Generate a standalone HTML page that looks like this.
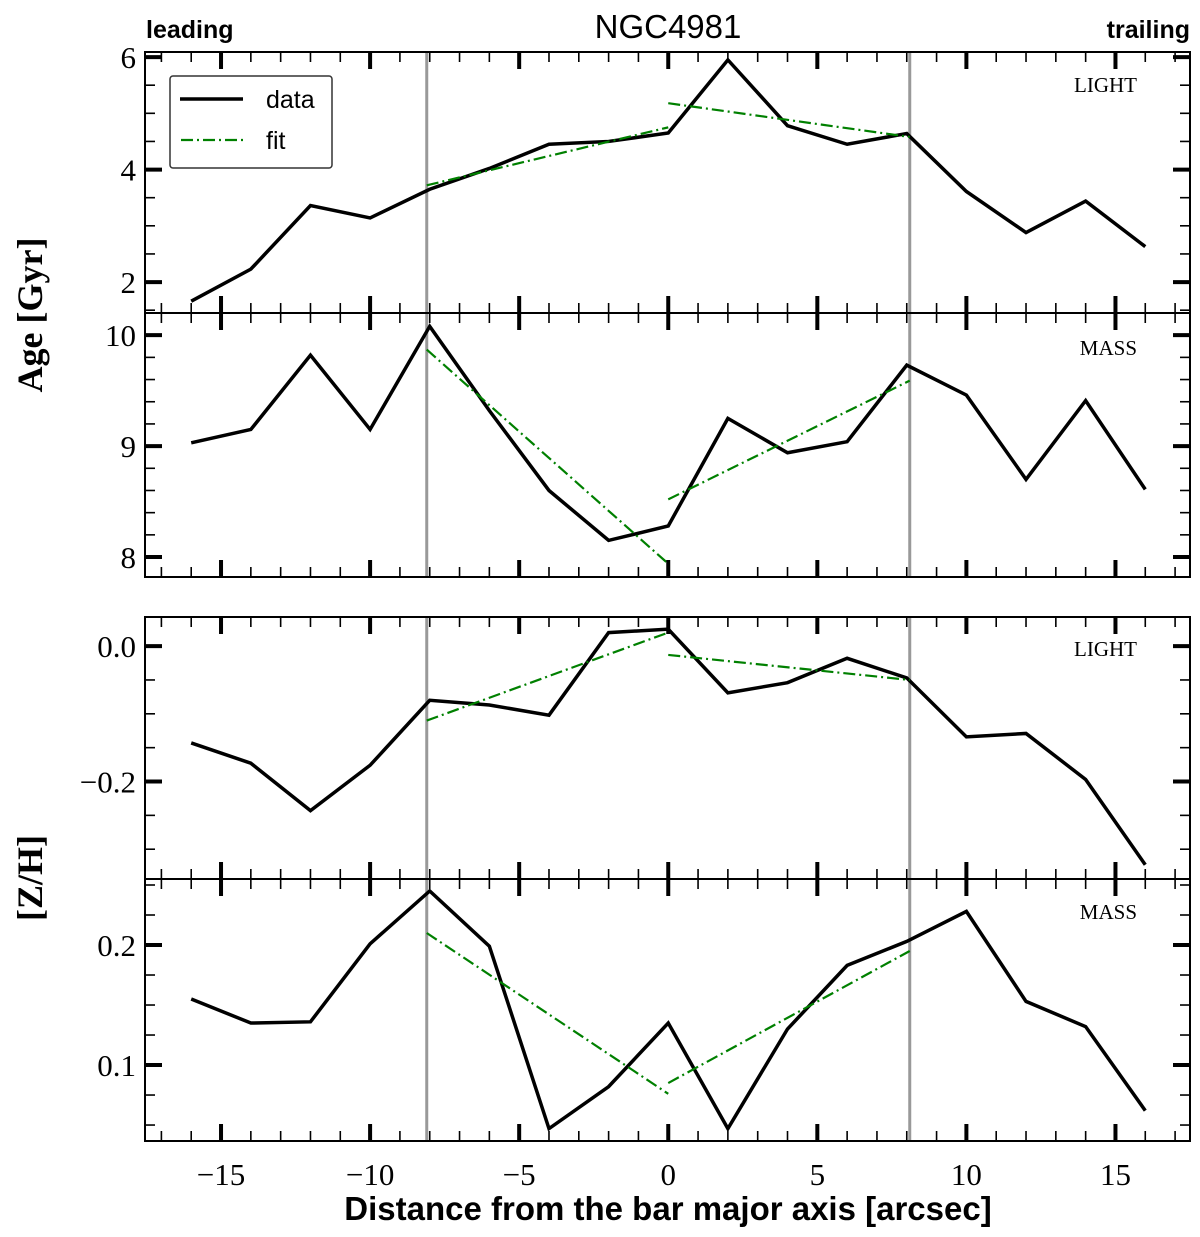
<!DOCTYPE html>
<html><head><meta charset="utf-8">
<style>
html,body{margin:0;padding:0;background:#fff;}
svg{display:block;}
.tk{font-family:"Liberation Serif",serif;font-size:31px;fill:#000;}
</style></head>
<body>
<svg id="chart" width="1200" height="1237" viewBox="0 0 1200 1237" xmlns="http://www.w3.org/2000/svg">
<text x="668" y="38" text-anchor="middle" font-family="Liberation Sans, sans-serif" font-size="33">NGC4981</text>
<text x="146" y="38" font-family="Liberation Sans, sans-serif" font-weight="bold" font-size="25">leading</text>
<text x="1190" y="38" text-anchor="end" font-family="Liberation Sans, sans-serif" font-weight="bold" font-size="25">trailing</text>
<text transform="translate(42,315) rotate(-90)" text-anchor="middle" font-family="Liberation Serif, serif" font-weight="bold" font-size="36">Age [Gyr]</text>
<text transform="translate(42,878) rotate(-90)" text-anchor="middle" font-family="Liberation Serif, serif" font-weight="bold" font-size="36">[Z/H]</text>
<text x="668" y="1220" text-anchor="middle" font-family="Liberation Sans, sans-serif" font-weight="bold" font-size="33">Distance from the bar major axis [arcsec]</text>
<g id="plots"></g>
</svg>
<script>
const xs = [-16,-14,-12,-10,-8,-6,-4,-2,0,2,4,6,8,10,12,14,16];
const ageLight = [1.66,2.23,3.36,3.14,3.65,4.02,4.45,4.5,4.65,5.95,4.78,4.45,4.64,3.61,2.88,3.44,2.63];
const ageMass = [9.03,9.15,9.82,9.15,10.08,9.32,8.6,8.15,8.28,9.25,8.94,9.04,9.73,9.46,8.7,9.41,8.61];
const zhLight = [-0.143,-0.173,-0.243,-0.176,-0.08,-0.087,-0.102,0.02,0.025,-0.069,-0.054,-0.018,-0.047,-0.134,-0.129,-0.197,-0.323];
const zhMass = [0.155,0.135,0.136,0.201,0.245,0.199,0.047,0.082,0.135,0.047,0.13,0.183,0.203,0.228,0.153,0.132,0.062];
const fitX = [[-8.1,0],[0,8.1]];
const ageLightFit = [[3.72,4.75],[5.18,4.58]];
const ageMassFit = [[9.87,7.94],[8.52,9.59]];
const zhLightFit = [[-0.11,0.02],[-0.013,-0.05]];
const zhMassFit = [[0.21,0.076],[0.085,0.195]];
const barEdges = [-8.1,8.1];
const xTicks = [-15,-10,-5,0,5,10,15];

const NS='http://www.w3.org/2000/svg';
const root=document.getElementById('plots');
const X0=145,X1=1190,XMIN=-17.55,XMAX=17.5;
const sx=v=>X0+(v-XMIN)/(XMAX-XMIN)*(X1-X0);
function mk(tag,attrs,parent){const e=document.createElementNS(NS,tag);for(const k in attrs)e.setAttribute(k,attrs[k]);(parent||root).appendChild(e);return e;}

const panels=[
 {name:'age-light',top:52,bot:313,ymin:1.45,ymax:6.09,data:ageLight,fit:ageLightFit,major:[2,4,6],labels:['2','4','6'],minorStep:0.5,tag:'LIGHT',tagY:92},
 {name:'age-mass',top:313,bot:577,ymin:7.82,ymax:10.2,data:ageMass,fit:ageMassFit,major:[8,9,10],labels:['8','9','10'],minorStep:0.2,tag:'MASS',tagY:355},
 {name:'zh-light',top:617,bot:879,ymin:-0.344,ymax:0.043,data:zhLight,fit:zhLightFit,major:[-0.2,0],labels:['\u22120.2','0.0'],minorStep:0.05,tag:'LIGHT',tagY:656},
 {name:'zh-mass',top:879,bot:1141,ymin:0.0367,ymax:0.255,data:zhMass,fit:zhMassFit,major:[0.1,0.2],labels:['0.1','0.2'],minorStep:0.025,tag:'MASS',tagY:919}
];

panels.forEach((p,pi)=>{
  const sy=v=>p.bot-(v-p.ymin)/(p.ymax-p.ymin)*(p.bot-p.top);
  const g=mk('g',{});
  
  
  const cp='clip'+pi;
  const c=mk('clipPath',{id:cp},g);mk('rect',{x:X0,y:p.top,width:X1-X0,height:p.bot-p.top},c);
  barEdges.forEach(b=>{const l=mk('line',{x1:sx(b),x2:sx(b),y1:p.top,y2:p.bot,stroke:'#999','stroke-width':3},g);
    
    });
  const pl=mk('polyline',{points:xs.map((x,i)=>sx(x)+','+sy(p.data[i])).join(' '),fill:'none',stroke:'#000','stroke-width':3.5,'stroke-linejoin':'miter','clip-path':'url(#'+cp+')'},g);
  
  
  p.fit.forEach((f,k)=>{const l=mk('line',{x1:sx(fitX[k][0]),y1:sy(f[0]),x2:sx(fitX[k][1]),y2:sy(f[1]),stroke:'#008000','stroke-width':2.2,'stroke-dasharray':'12,4,2,4'},g);
    
    });
  const fr=mk('rect',{x:X0,y:p.top,width:X1-X0,height:p.bot-p.top,fill:'none',stroke:'#000','stroke-width':2},g);
  
  
  for(let v=-17;v<=17;v++){
    const maj=v%5===0, len=maj?17:10, w=maj?4:1.6;
    mk('line',{x1:sx(v),x2:sx(v),y1:p.top,y2:p.top+len,stroke:'#000','stroke-width':w},g);
    mk('line',{x1:sx(v),x2:sx(v),y1:p.bot,y2:p.bot-len,stroke:'#000','stroke-width':w},g);
  }
  const start=Math.ceil(p.ymin/p.minorStep-1e-6);
  for(let k=start;k*p.minorStep<=p.ymax+1e-9;k++){
    const v=k*p.minorStep; const maj=p.major.some(m=>Math.abs(m-v)<1e-6);
    const len=maj?17:10,w=maj?4:1.6,y=sy(v);
    mk('line',{x1:X0,x2:X0+len,y1:y,y2:y,stroke:'#000','stroke-width':w},g);
    mk('line',{x1:X1,x2:X1-len,y1:y,y2:y,stroke:'#000','stroke-width':w},g);
  }
  p.major.forEach((m,i)=>{const t=mk('text',{x:136,y:sy(m)+11,'text-anchor':'end','class':'tk'},g);t.textContent=p.labels[i];
    
    });
  const tg=mk('text',{x:1137,y:p.tagY,'text-anchor':'end','font-family':'Liberation Serif, serif','font-size':21},g);tg.textContent=p.tag;
  
  
});
xTicks.forEach(v=>{const t=mk('text',{x:sx(v),y:1185,'text-anchor':'middle','class':'tk'});t.textContent=(v<0?'\u2212':'')+Math.abs(v);
  
  });
const lg=mk('g',{});


mk('rect',{x:170,y:76,width:162,height:92,rx:3,fill:'#fff',stroke:'#333','stroke-width':1.5},lg);
mk('line',{x1:180,x2:243,y1:99,y2:99,stroke:'#000','stroke-width':3.5},lg);
mk('line',{x1:181,x2:243,y1:140,y2:140,stroke:'#008000','stroke-width':2.2,'stroke-dasharray':'12,4,2,4'},lg);
const t1=mk('text',{x:266,y:108,'font-family':'Liberation Sans, sans-serif','font-size':25},lg);t1.textContent='data';


const t2=mk('text',{x:266,y:149,'font-family':'Liberation Sans, sans-serif','font-size':25},lg);t2.textContent='fit';


</script>
</body></html>
